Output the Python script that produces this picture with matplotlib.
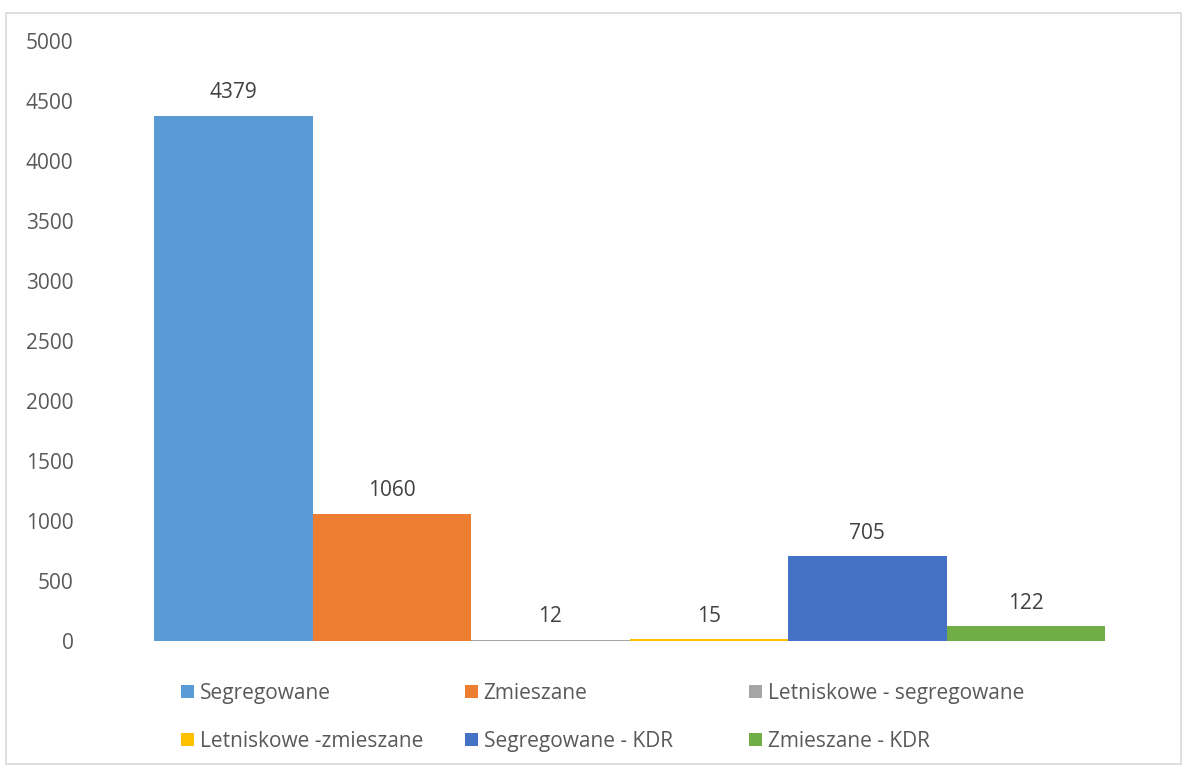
import matplotlib.pyplot as plt
from matplotlib.patches import Rectangle

plt.rcParams['font.family'] = ['Open Sans', 'DejaVu Sans']

names = ["Segregowane", "Zmieszane", "Letniskowe - segregowane",
         "Letniskowe -zmieszane", "Segregowane - KDR", "Zmieszane - KDR"]
values = [4379, 1060, 12, 15, 705, 122]
colors = ["#5B9BD5", "#ED7D31", "#A5A5A5", "#FFC000", "#4472C4", "#70AD47"]
yticks = [0, 500, 1000, 1500, 2000, 2500, 3000, 3500, 4000, 4500, 5000]

W, H = 1182, 765
fig = plt.figure(figsize=(W / 100, H / 100), dpi=100)

# chart border
fig.patches.append(Rectangle((6 / W, 1 - 764 / H), 1175 / W, 751 / H,
                             transform=fig.transFigure, fill=False,
                             edgecolor="#D9D9D9", linewidth=1.2))

ax = fig.add_axes([154 / W, 1 - 641 / H, (1105 - 154) / W, (641 - 41) / H])

handles = []
for i, (n, v, c) in enumerate(zip(names, values, colors)):
    b = ax.bar(i, v, width=1.0, color=c, label=n)
    handles.append(b)
    ax.annotate(str(v), (i, v), xytext=(0, 9), textcoords="offset points",
                ha="center", va="bottom", fontsize=15, color="#404040")

ax.set_xlim(-0.5, len(values) - 0.5)
ax.set_ylim(0, 5000)
ax.set_yticks(yticks)
ax.set_xticks([])
for s in ax.spines.values():
    s.set_visible(False)
ax.tick_params(axis="y", length=0, pad=58, labelsize=15, labelcolor="#595959")

# legend: three columns, two rows (row-major like the original)
col_x = [181, 465, 749]
for c in range(3):
    idx = [c, c + 3]
    fig.legend([handles[k] for k in idx], [names[k] for k in idx],
               loc="upper left", bbox_to_anchor=(col_x[c] / W, 1 - 683 / H),
               frameon=False, fontsize=15,
               handlelength=0.6, handleheight=0.6, handletextpad=0.3,
               labelspacing=1.3, borderpad=0, borderaxespad=0,
               labelcolor="#595959")

fig.savefig("out.png", dpi=100)
